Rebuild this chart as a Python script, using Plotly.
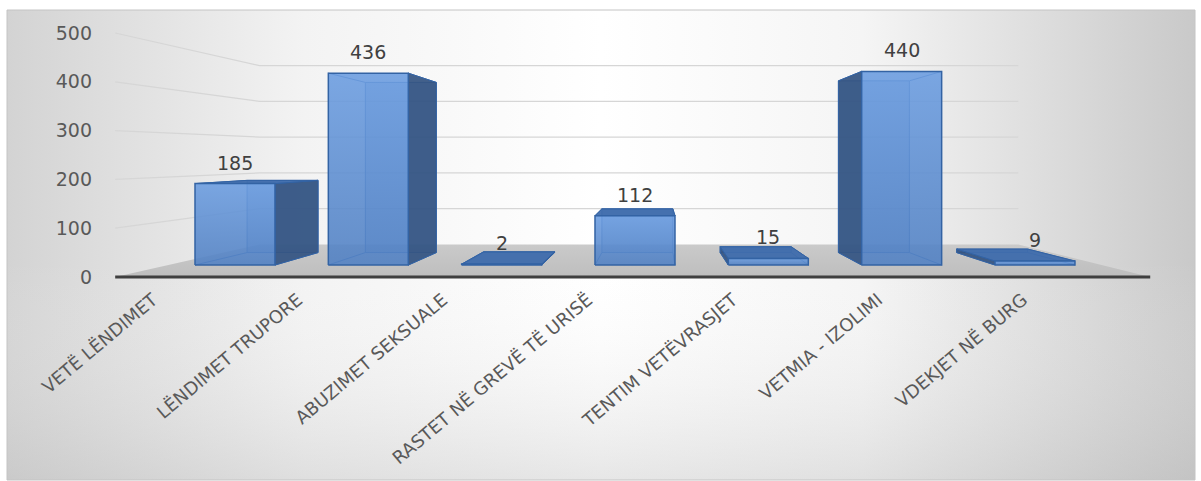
import plotly.graph_objects as go

# ---------------- data ----------------
categories = ["VETË LËNDIMET", "LËNDIMET TRUPORE", "ABUZIMET SEKSUALE",
              "RASTET NË GREVË TË URISË", "TENTIM VETËVRASJET",
              "VETMIA - IZOLIMI", "VDEKJET NË BURG"]
values = [185, 436, 2, 112, 15, 440, 9]
y_ticks = [0, 100, 200, 300, 400, 500]

# ---------------- geometry of the pseudo-3D view ----------------
W, H = 1201, 481
X0_PX, DX_PX = 235.0, 133.33      # category 0 centre / spacing on the bar-front plane
Y0_PX, DY_PX = 265.0, 0.44        # value 0 / px per unit on the bar-front plane
VP_PX = (656.0, 155.0)            # vanishing point
S_FLOOR = 1.109                   # depth scale of the floor front edge
S_BACK = 0.887                    # depth scale of the bar backs
S_WALL = 0.813                    # depth scale of the back wall
HALF = 0.3                        # half bar width (category units)
X_LO, X_HI = -0.5, len(categories) - 0.5
LAB0_PX, LABSP_PX = 153.0, 145.0  # category label axis

FONT = "DejaVu Sans"

xr = [(0 - X0_PX) / DX_PX, (W - X0_PX) / DX_PX]
yr = [(Y0_PX - H) / DY_PX, Y0_PX / DY_PX]
XV = (VP_PX[0] - X0_PX) / DX_PX
YV = (Y0_PX - VP_PX[1]) / DY_PX


def proj(X, Y, s):
    return XV + (X - XV) * s, YV + (Y - YV) * s


def px2data(px, py):
    return (px - X0_PX) / DX_PX, (Y0_PX - py) / DY_PX


def poly(pts, fill=None, line_color=None, lw=1.0, grad=None, closed=True):
    xs = [p[0] for p in pts]
    ys = [p[1] for p in pts]
    if closed:
        xs.append(xs[0]); ys.append(ys[0])
    kw = dict(x=xs, y=ys, mode="lines", hoverinfo="skip", showlegend=False,
              line=dict(color=line_color or "rgba(0,0,0,0)", width=lw if line_color else 0))
    if fill is not None or grad is not None:
        kw["fill"] = "toself"
        if fill is not None:
            kw["fillcolor"] = fill
        if grad is not None:
            kw["fillgradient"] = grad
    return go.Scatter(**kw)


fig = go.Figure()

# ---------------- background (chart area gradient) ----------------
bl = px2data(7, 480)
tr = px2data(1195, 10)
bg = [(bl[0], bl[1]), (tr[0], bl[1]), (tr[0], tr[1]), (bl[0], tr[1])]
fig.add_trace(poly(bg, grad=dict(type="horizontal", start=bl[0], stop=tr[0],
                                 colorscale=[[0, "#d3d3d3"], [0.25, "#f3f3f3"],
                                             [0.5, "#ffffff"], [0.72, "#f5f5f5"],
                                             [1, "#c9c9c9"]])))
fig.add_trace(poly(bg, grad=dict(type="vertical", start=bl[1], stop=px2data(0, 260)[1],
                                 colorscale=[[0, "rgba(185,185,185,0.35)"],
                                             [1, "rgba(255,255,255,0)"]])))

# ---------------- gridlines on side wall + back wall ----------------
for t in y_ticks[1:]:
    pts = [proj(X_LO, t, S_FLOOR), proj(X_LO, t, S_WALL), proj(X_HI, t, S_WALL)]
    fig.add_trace(poly(pts, line_color="#d6d6d6", lw=1.2, closed=False))

# ---------------- floor ----------------
floor = [proj(X_LO, 0, S_FLOOR), proj(X_HI, 0, S_FLOOR),
         proj(X_HI, 0, S_WALL), proj(X_LO, 0, S_WALL)]
fig.add_trace(poly(floor, grad=dict(type="vertical",
                                    colorscale=[[0, "#bebebe"], [1, "#cacaca"]])))
fig.add_trace(poly([floor[0], floor[1]], line_color="#3f3f3f", lw=3, closed=False))

# ---------------- bars ----------------
EDGE = "#3363a4"
for i, v in enumerate(values):
    xl, xh = i - HALF, i + HALF
    fbl, fbr, ftr, ftl = (proj(xl, 0, 1), proj(xh, 0, 1), proj(xh, v, 1), proj(xl, v, 1))
    bbl, bbr, btr, btl = (proj(xl, 0, S_BACK), proj(xh, 0, S_BACK),
                          proj(xh, v, S_BACK), proj(xl, v, S_BACK))
    # hidden edges (seen through the translucent faces)
    fig.add_trace(poly([bbl, bbr, btr, btl], fill="rgba(80,130,200,0.35)",
                       line_color="rgba(60,105,170,0.9)", lw=1))
    for a, b in [(fbl, bbl), (fbr, bbr), (ftl, btl), (ftr, btr)]:
        fig.add_trace(poly([a, b], line_color="rgba(60,105,170,0.9)", lw=1, closed=False))
    # visible side face
    if xh < XV:
        fig.add_trace(poly([fbr, ftr, btr, bbr], fill="rgba(52,84,130,0.93)",
                           line_color=EDGE, lw=1))
    elif xl > XV:
        fig.add_trace(poly([fbl, ftl, btl, bbl], fill="rgba(52,84,130,0.93)",
                           line_color=EDGE, lw=1))
    # top face
    if v < YV:
        fig.add_trace(poly([ftl, ftr, btr, btl], fill="rgba(62,108,172,0.95)",
                           line_color=EDGE, lw=1))
    # front face
    fig.add_trace(poly([fbl, fbr, ftr, ftl], line_color=EDGE, lw=1.5,
                       grad=dict(type="vertical",
                                 colorscale=[[0, "rgba(80,128,195,0.88)"],
                                             [1, "rgba(106,156,224,0.88)"]])))

# ---------------- value labels ----------------
for i, v in enumerate(values):
    fig.add_annotation(x=i, y=v, xref="x", yref="y", text=str(v), showarrow=False,
                       yshift=21, yanchor="middle",
                       font=dict(family=FONT, size=19, color="#404040"))

# ---------------- axes carrying the tick labels ----------------
y2r = [YV + (yr[0] - YV) / S_FLOOR, YV + (yr[1] - YV) / S_FLOOR]
x2r = [(0 - LAB0_PX) / LABSP_PX, (W - LAB0_PX) / LABSP_PX]
fig.add_trace(go.Scatter(x=list(range(len(categories))), y=[0] * len(categories),
                         xaxis="x2", yaxis="y2", mode="markers",
                         marker=dict(opacity=0), hoverinfo="skip", showlegend=False))

fig.update_layout(
    width=W, height=H,
    margin=dict(l=0, r=0, t=0, b=0),
    paper_bgcolor="white", plot_bgcolor="rgba(0,0,0,0)",
    showlegend=False, hovermode=False,
    xaxis=dict(range=xr, visible=False, fixedrange=True),
    yaxis=dict(range=yr, visible=False, fixedrange=True),
    xaxis2=dict(range=x2r, overlaying="x", anchor="free", position=1 - 285 / H,
                side="bottom", tickmode="array", tickvals=list(range(len(categories))),
                ticktext=categories, tickangle=-40, showgrid=False, zeroline=False,
                showline=False, ticks="", fixedrange=True,
                tickfont=dict(family=FONT, size=18, color="#595959")),
    yaxis2=dict(range=y2r, overlaying="y", anchor="free", position=92 / W,
                side="left", tickmode="array", tickvals=y_ticks, showgrid=False,
                zeroline=False, showline=False, ticks="", fixedrange=True,
                tickfont=dict(family=FONT, size=19, color="#595959")),
    shapes=[dict(type="rect", xref="paper", yref="paper",
                 x0=7 / W, x1=1195 / W, y0=1 - 480 / H, y1=1 - 10 / H,
                 line=dict(color="#c4c4c4", width=1), fillcolor="rgba(0,0,0,0)",
                 layer="above")],
)

fig.write_html("out.html")
